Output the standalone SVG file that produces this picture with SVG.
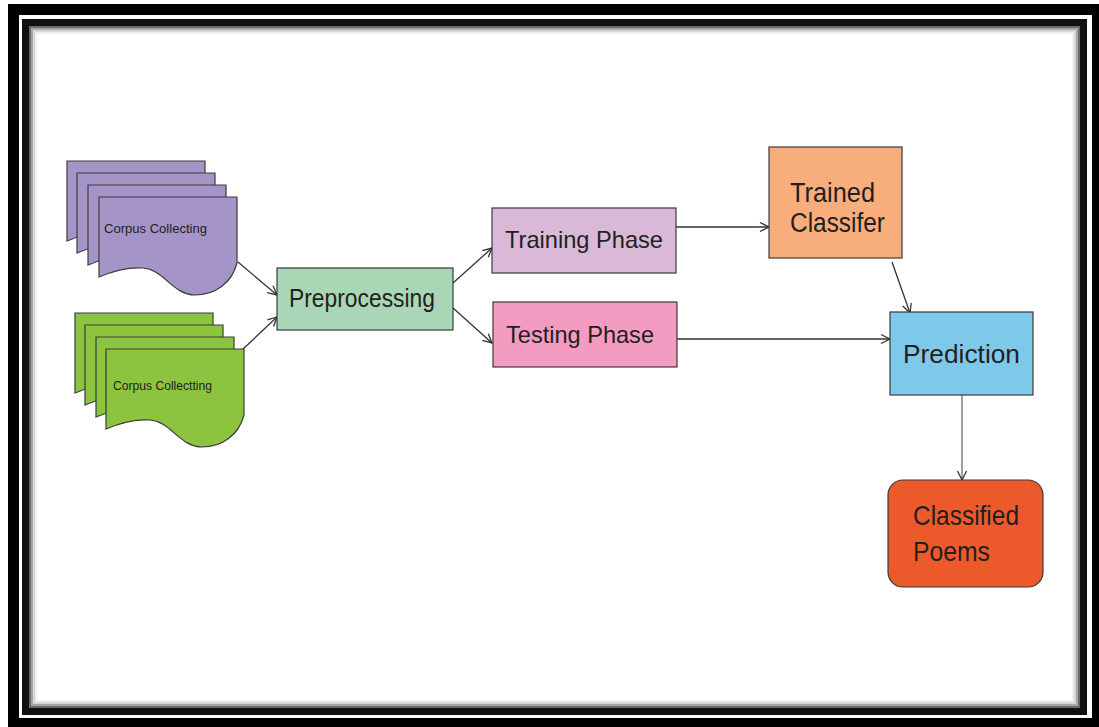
<svg xmlns="http://www.w3.org/2000/svg" xmlns:xlink="http://www.w3.org/1999/xlink" width="1099" height="727" viewBox="0 0 1099 727">
  <style>
    .box { stroke: #3a3a3a; stroke-width: 1.2; }
    .page { stroke: #3c3c3c; stroke-width: 1.2; }
    .lbl { font-family: "Liberation Sans", Arial, sans-serif; fill: #231f20; }
    .conn { fill: none; stroke: #333333; stroke-width: 1.3; marker-end: url(#arrow); }
  </style>
  <defs>
    <marker id="arrow" markerUnits="userSpaceOnUse" markerWidth="12" markerHeight="12" viewBox="0 0 12 12" refX="11" refY="6" orient="auto">
      <path d="M2,1.5 L11,6 L2,10.5" fill="none" stroke="#333333" stroke-width="1.3"/>
    </marker>
    <!-- one sheet of a stacked document: flat top, wavy bottom -->
    <path id="docPage" d="M0,0 H138 V66 C133,86 116,98 96,98 C74,98 64,72 44,71 C28,70 14,74 0,80 Z"/>
  </defs>

  <!-- page background and frame -->
  <rect x="0" y="0" width="1099" height="727" fill="#ffffff"/>
  <path d="M8,4 H1099 V727 H8 Z M19,15 V718 H1092 V15 Z" fill="#000000" fill-rule="evenodd"/>
  <rect x="25.5" y="22.5" width="1058" height="689" fill="none" stroke="#111111" stroke-width="7"/>
  <rect x="30" y="27" width="1049" height="680" fill="none" stroke="#6a6a6a" stroke-width="2"/>
  <rect x="32" y="29" width="1045" height="676" fill="none" stroke="#a8a8a8" stroke-width="2"/>
  <rect x="34" y="31" width="1041" height="672" fill="none" stroke="#d6d6d6" stroke-width="2"/>
  <rect x="36" y="33" width="1037" height="668" fill="none" stroke="#f0f0f0" stroke-width="2"/>

  <!-- connectors -->
  <g id="connectors">
    <line class="conn" x1="238" y1="262" x2="277" y2="295"/>
    <line class="conn" x1="242" y1="350" x2="277" y2="317"/>
    <line class="conn" x1="453" y1="283" x2="492" y2="248"/>
    <line class="conn" x1="453" y1="308" x2="492" y2="343"/>
    <line class="conn" x1="676" y1="227" x2="769" y2="227"/>
    <line class="conn" x1="677" y1="339" x2="890" y2="339"/>
    <line class="conn" x1="892" y1="262" x2="910" y2="313"/>
    <line class="conn" x1="962" y1="395" x2="962" y2="480" style="stroke:#6e6e6e"/>
  </g>

  <!-- purple corpus stack -->
  <g id="corpus-purple">
    <use xlink:href="#docPage" x="67" y="161" fill="#a594c8" class="page"/>
    <use xlink:href="#docPage" x="77" y="173" fill="#a594c8" class="page"/>
    <use xlink:href="#docPage" x="88" y="185" fill="#a594c8" class="page"/>
    <use xlink:href="#docPage" x="99" y="197" fill="#a594c8" class="page"/>
    <text class="lbl" x="104" y="233" font-size="13" textLength="103" lengthAdjust="spacingAndGlyphs">Corpus Collecting</text>
  </g>

  <!-- green corpus stack -->
  <g id="corpus-green">
    <use xlink:href="#docPage" x="75" y="313" fill="#8dc43f" class="page"/>
    <use xlink:href="#docPage" x="85" y="325" fill="#8dc43f" class="page"/>
    <use xlink:href="#docPage" x="96" y="337" fill="#8dc43f" class="page"/>
    <use xlink:href="#docPage" x="106" y="349" fill="#8dc43f" class="page"/>
    <text class="lbl" x="113" y="390" font-size="13" textLength="99" lengthAdjust="spacingAndGlyphs">Corpus Collectting</text>
  </g>

  <g id="preprocessing">
    <rect class="box" x="277" y="268" width="176" height="62" fill="#a9d7b6"/>
    <text class="lbl" x="289" y="307" font-size="25" textLength="146" lengthAdjust="spacingAndGlyphs">Preprocessing</text>
  </g>

  <g id="training-phase">
    <rect class="box" x="492" y="208" width="184" height="65" fill="#dab9d8"/>
    <text class="lbl" x="505" y="248" font-size="24" textLength="158" lengthAdjust="spacingAndGlyphs">Training Phase</text>
  </g>

  <g id="testing-phase">
    <rect class="box" x="493" y="302" width="184" height="65" fill="#f49bc1"/>
    <text class="lbl" x="506" y="343" font-size="24" textLength="148" lengthAdjust="spacingAndGlyphs">Testing Phase</text>
  </g>

  <g id="trained-classifier">
    <rect class="box" x="769" y="147" width="133" height="111" fill="#f8ae7c"/>
    <text class="lbl" x="790" y="202" font-size="27" textLength="85" lengthAdjust="spacingAndGlyphs">Trained</text>
    <text class="lbl" x="790" y="232" font-size="27" textLength="95" lengthAdjust="spacingAndGlyphs">Classifer</text>
  </g>

  <g id="prediction">
    <rect class="box" x="890" y="312" width="143" height="83" fill="#7ec8e9"/>
    <text class="lbl" x="903" y="363" font-size="26" textLength="117" lengthAdjust="spacingAndGlyphs">Prediction</text>
  </g>

  <g id="classified-poems">
    <rect class="box" x="888" y="480" width="155" height="107" rx="15" ry="15" fill="#ec5a2b"/>
    <text class="lbl" x="913" y="525" font-size="28" textLength="106" lengthAdjust="spacingAndGlyphs">Classified</text>
    <text class="lbl" x="913" y="561" font-size="28" textLength="77" lengthAdjust="spacingAndGlyphs">Poems</text>
  </g>
</svg>
